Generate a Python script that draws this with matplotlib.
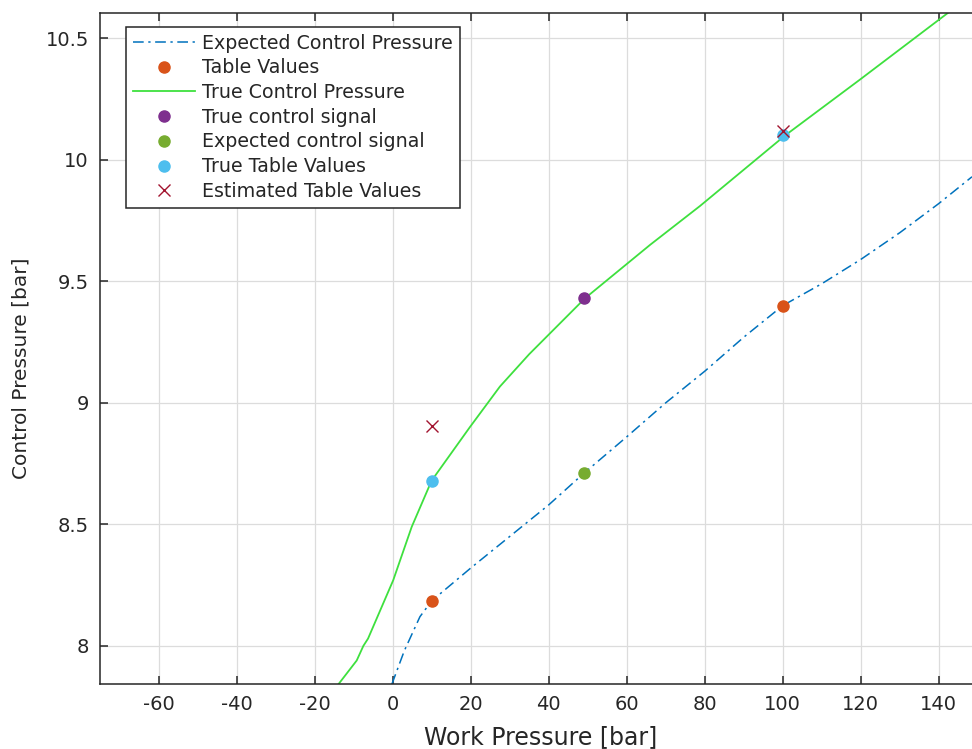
import matplotlib
matplotlib.use('Agg')
import matplotlib.pyplot as plt
import numpy as np

# expected control pressure curve (dash-dot)
exp_x = [-0.2, 3, 7, 10, 20, 30, 40, 49, 60, 70, 80, 90, 100, 110, 120, 130, 140, 148.5]
exp_y = [7.842, 7.98, 8.12, 8.185, 8.32, 8.45, 8.58, 8.71, 8.86, 9.0, 9.13, 9.27, 9.40, 9.49, 9.59, 9.70, 9.82, 9.93]

# true control pressure curve (solid green)
true_x = [-13.9, -9.2, -7.5, -6.3, 0.15, 4.9, 10, 19.8, 27.5, 35, 49.3, 66, 78.8, 100.6, 119.8, 142.4]
true_y = [7.842, 7.94, 8.0, 8.03, 8.27, 8.49, 8.68, 8.90, 9.067, 9.20, 9.43, 9.65, 9.81, 10.10, 10.33, 10.605]

table_x = [10, 100]
table_y = [8.185, 9.40]

true_sig_x = [49]
true_sig_y = [9.43]

exp_sig_x = [49]
exp_sig_y = [8.712]

true_table_x = [10, 100]
true_table_y = [8.68, 10.10]

est_table_x = [10, 100]
est_table_y = [8.906, 10.12]

plt.rcParams['font.family'] = 'DejaVu Sans'
dark = '#262626'

fig = plt.figure(figsize=(9.72, 7.49), dpi=100)
ax = fig.add_axes([100 / 972, 64.7 / 749, 872 / 972, 671.6 / 749])

ax.plot(exp_x, exp_y, color='#0072BD', lw=1.1, linestyle=(0, (7, 3, 1.5, 3)),
        label='Expected Control Pressure')
ax.plot(table_x, table_y, 'o', color='#D95319', ms=8, label='Table Values')
ax.plot(true_x, true_y, '-', color='#3ee03e', lw=1.3, label='True Control Pressure')
ax.plot(true_sig_x, true_sig_y, 'o', color='#7E2F8E', ms=8, label='True control signal')
ax.plot(exp_sig_x, exp_sig_y, 'o', color='#77AC30', ms=8, label='Expected control signal')
ax.plot(true_table_x, true_table_y, 'o', color='#4DBEEE', ms=8, label='True Table Values')
ax.plot(est_table_x, est_table_y, 'x', color='#A2142F', ms=9, mew=1.0,
        label='Estimated Table Values')

ax.set_xlim(-75, 148.5)
ax.set_ylim(7.842, 10.605)
ax.set_xticks(np.arange(-60, 141, 20))
ax.set_yticks([8, 8.5, 9, 9.5, 10, 10.5])
ax.set_yticklabels(['8', '8.5', '9', '9.5', '10', '10.5'])
ax.set_xticklabels([str(v) for v in range(-60, 141, 20)])

ax.grid(True, color='#dcdcdc', lw=0.9)
ax.set_axisbelow(True)
ax.tick_params(direction='in', length=6, width=1.1, colors=dark, labelsize=14,
               top=True, right=False, pad=8)
for side in ['left', 'bottom', 'top']:
    ax.spines[side].set_color(dark)
    ax.spines[side].set_linewidth(1.1)
ax.spines['right'].set_visible(False)

ax.set_xlabel('Work Pressure [bar]', fontsize=17, color=dark)
ax.xaxis.set_label_coords(0.5057, -0.0606)
ax.set_ylabel('Control Pressure [bar]', fontsize=14.5, color=dark)
ax.yaxis.set_label_coords(-0.08, 0.471)

leg = ax.legend(loc='upper left', bbox_to_anchor=(26 / 872, 657.3 / 671.6),
                borderaxespad=0, fontsize=13.7, numpoints=1, handlelength=3.3,
                handletextpad=0.35, labelspacing=0.3, borderpad=0.35,
                fancybox=False, framealpha=1)
leg.get_frame().set_edgecolor(dark)
leg.get_frame().set_linewidth(1.1)
for t in leg.get_texts():
    t.set_color(dark)

fig.savefig('out.png', dpi=100)
